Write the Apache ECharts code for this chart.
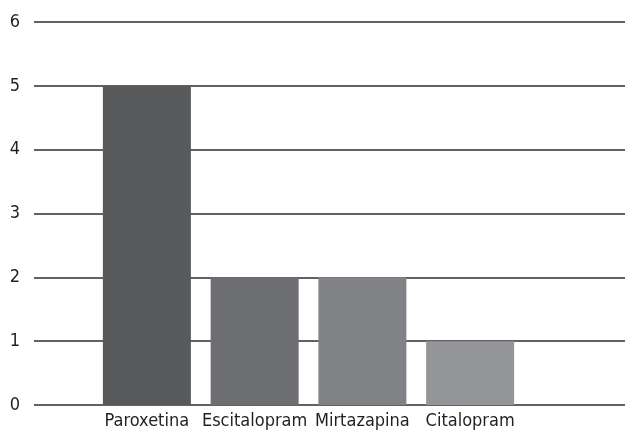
<!DOCTYPE html>
<html>
<head>
<meta charset="utf-8">
<script src="https://cdn.jsdelivr.net/npm/echarts@6/dist/echarts.min.js"></script>
<style>
  html, body { margin: 0; padding: 0; background: #ffffff; }
  #chart { width: 625px; height: 434px; }
</style>
</head>
<body>
<div id="chart"></div>
<script>
// Antidepressant counts
const categories = ['Paroxetina', 'Escitalopram', 'Mirtazapina', 'Citalopram'];
const values = [5, 2, 2, 1];
const barColors = ['#58595b', '#6d6e71', '#808285', '#939598'];
const yTicks = [0, 1, 2, 3, 4, 5, 6];

const FONT = '"Liberation Sans Narrow", "DejaVu Sans Condensed", "Roboto", sans-serif';
const TEXT = '#231f20';
const yMin = yTicks[0];
const yMax = yTicks[yTicks.length - 1];

const chart = echarts.init(document.getElementById('chart'));
chart.setOption({
  animation: false,
  backgroundColor: '#ffffff',
  grid: [
    // background grid: value scale and horizontal rules
    { left: 34, right: 0, top: 22, bottom: 29 },
    // bar grid
    { left: 93, width: 431, top: 22, bottom: 29 }
  ],
  xAxis: [
    { gridIndex: 0, type: 'category', data: categories, show: false },
    {
      gridIndex: 1, type: 'category', data: categories,
      axisLine: { show: false }, axisTick: { show: false },
      axisLabel: { color: TEXT, fontFamily: FONT, fontSize: 18, margin: 7, interval: 0 }
    }
  ],
  yAxis: [
    {
      gridIndex: 0, type: 'value', min: yMin, max: yMax, interval: 1,
      axisLine: { show: false }, axisTick: { show: false },
      axisLabel: { color: TEXT, fontFamily: FONT, fontSize: 18, margin: 14 },
      splitLine: { show: true, lineStyle: { color: '#2e2e2e', width: 1.5 } }
    },
    {
      gridIndex: 1, type: 'value', min: yMin, max: yMax, interval: 1,
      show: false, splitLine: { show: false }
    }
  ],
  series: [{
    type: 'bar',
    xAxisIndex: 1,
    yAxisIndex: 1,
    barWidth: 88,
    z: 3,
    data: values.map((v, i) => ({ value: v, itemStyle: { color: barColors[i] } }))
  }]
});
</script>
</body>
</html>
